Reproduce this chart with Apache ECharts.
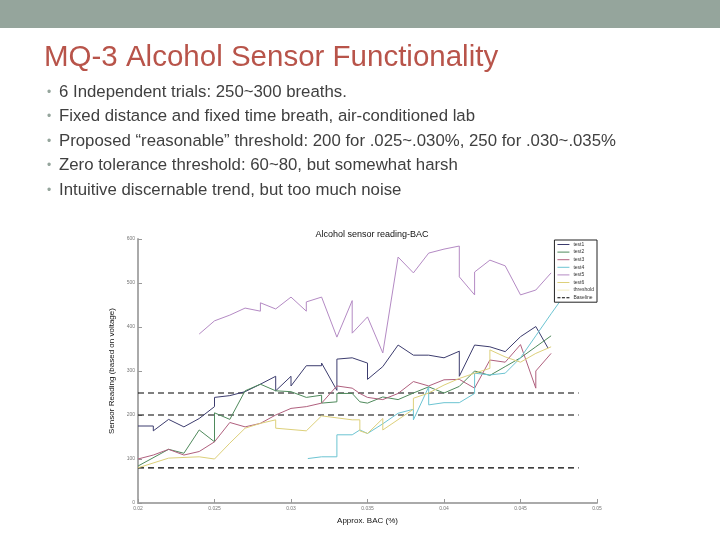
<!DOCTYPE html>
<html><head><meta charset="utf-8">
<script src="https://cdn.jsdelivr.net/npm/echarts@6/dist/echarts.min.js"></script>
<style>html,body{margin:0;padding:0;background:#fff}#c{width:720px;height:540px}</style>
</head><body><div id="c"></div>
<script>
// ---- data (BAC %, sensor reading) ----
const seriesNames = ['test1','test2','test3','test4','test5','test6','threshold','Baseline'];
const test1 = [[0.020,175],[0.021,175],[0.021,164],[0.022,190],[0.023,173],[0.024,192],[0.025,219],[0.025,240],[0.026,244],[0.027,253],[0.028,270],[0.029,288],[0.029,255],[0.030,288],[0.030,266],[0.031,312],[0.032,312],[0.032,318],[0.033,256],[0.033,327],[0.034,330],[0.035,318],[0.035,281],[0.036,310],[0.037,359],[0.038,336],[0.039,336],[0.040,330],[0.041,345],[0.041,288],[0.042,359],[0.043,355],[0.044,344],[0.045,378],[0.046,401],[0.0468,352]];
const test2 = [[0.020,84],[0.022,122],[0.023,113],[0.024,166],[0.025,139],[0.025,205],[0.026,190],[0.027,255],[0.028,270],[0.029,255],[0.030,253],[0.031,240],[0.032,245],[0.032,227],[0.033,230],[0.033,249],[0.034,249],[0.0345,230],[0.035,227],[0.036,241],[0.037,235],[0.038,250],[0.039,264],[0.040,250],[0.041,265],[0.042,300],[0.043,290],[0.044,310],[0.045,330],[0.046,355],[0.047,380]];
const test3 = [[0.020,100],[0.021,109],[0.022,122],[0.023,109],[0.024,117],[0.025,139],[0.026,183],[0.027,173],[0.028,181],[0.029,200],[0.030,215],[0.031,219],[0.032,227],[0.033,266],[0.034,261],[0.0345,249],[0.035,240],[0.036,235],[0.037,249],[0.038,276],[0.039,266],[0.040,280],[0.041,281],[0.042,261],[0.043,325],[0.044,320],[0.045,360],[0.046,261],[0.046,300],[0.047,340]];
const test4 = [[0.0311,101],[0.032,105],[0.033,105],[0.033,155],[0.034,155],[0.0345,166],[0.035,158],[0.036,180],[0.037,204],[0.038,213],[0.038,189],[0.039,264],[0.039,223],[0.040,228],[0.041,228],[0.042,249],[0.042,295],[0.043,291],[0.044,295],[0.045,330],[0.046,380],[0.047,430],[0.0478,469]];
const test5 = [[0.024,384],[0.025,414],[0.026,427],[0.027,443],[0.028,436],[0.028,455],[0.029,441],[0.030,468],[0.031,436],[0.031,457],[0.032,468],[0.033,377],[0.034,460],[0.034,386],[0.035,423],[0.036,341],[0.037,559],[0.038,523],[0.039,568],[0.040,577],[0.041,584],[0.041,514],[0.042,473],[0.042,525],[0.043,552],[0.044,539],[0.045,473],[0.046,484],[0.047,523]];
const test6 = [[0.020,80],[0.022,102],[0.024,105],[0.025,100],[0.026,136],[0.027,170],[0.028,181],[0.029,189],[0.029,170],[0.031,164],[0.032,198],[0.034,189],[0.0345,189],[0.0345,164],[0.035,158],[0.036,192],[0.036,166],[0.038,213],[0.038,238],[0.039,250],[0.040,268],[0.041,283],[0.042,295],[0.043,306],[0.043,348],[0.044,332],[0.045,320],[0.046,340],[0.047,355]];
const baselineLevels = [250, 200, 80];
const baselineStart = 0.02, baselineEnd = 0.0488;
const xTicks = {min:0.02, max:0.05, interval:0.005};
const yTicks = {min:0, max:600, interval:100};
const bullets = [
  '6 Independent trials: 250~300 breaths.',
  'Fixed distance and fixed time breath, air-conditioned lab',
  'Proposed \u201creasonable\u201d threshold: 200 for .025~.030%, 250 for .030~.035%',
  'Zero tolerance threshold: 60~80, but somewhat harsh',
  'Intuitive discernable trend, but too much noise'
];
const colors = ['#3c3c6e','#4f8a5c','#b0607e','#6cc4d2','#b48ac4','#ddd07a','#f2ecc0','#000000'];

// baseline data with breaks
const baseData = [];
baselineLevels.forEach((v,i)=>{ if(i>0) baseData.push([baselineEnd,'-']); baseData.push([baselineStart,v],[baselineEnd,v]); });

const all = [test1,test2,test3,test4,test5,test6,[]];
const series = all.map((d,i)=>({
  name: seriesNames[i], type:'line', data:d, symbol:'none', showSymbol:false,
  lineStyle:{width:1, color:colors[i]}, itemStyle:{color:colors[i]}, animation:false, z:3
}));
series.push({name:'Baseline', type:'line', data:baseData, symbol:'none', connectNulls:false,
  lineStyle:{width:1.2, color:'#000', type:[6,4]}, itemStyle:{color:'#000'}, animation:false, z:2});

const solidIcon = 'path://M0,0h12v1h-12z';
const dashIcon = 'path://M0,0h3v1h-3z M4.5,0h3v1h-3z M9,0h3v1h-3z';
const legendData = seriesNames.map(n=>({name:n, icon: n==='Baseline'?dashIcon:solidIcon}));

const gtext = [];
gtext.push({type:'rect', shape:{x:0,y:0,width:720,height:28}, style:{fill:'#95a59c'}});
gtext.push({type:'text', x:44, y:58, style:{text:'MQ-3 Alcohol Sensor Functionality', font:'29.5px "Liberation Sans", Arial, sans-serif', fill:'#b8544a', verticalAlign:'middle'}});
const bulletY = [92,116,141,165,190];
bullets.forEach((t,i)=>{
  gtext.push({type:'text', x:47, y:bulletY[i]+1, style:{text:'\u2022', font:'12px "Liberation Sans", sans-serif', fill:'#95a59c', verticalAlign:'middle'}});
  gtext.push({type:'text', x:59, y:bulletY[i], style:{text:t, font:'16.8px "Liberation Sans", Arial, sans-serif', fill:'#404040', verticalAlign:'middle'}});
});

const chart = echarts.init(document.getElementById('c'), null, {renderer:'canvas'});
chart.setOption({
  backgroundColor:'#fff',
  animation:false,
  color: colors,
  graphic: gtext,
  title:{text:'Alcohol sensor reading-BAC', left:367, top:225, textAlign:'center',
    textStyle:{fontSize:9, fontWeight:'normal', color:'#111', fontFamily:'"Liberation Sans", Arial, sans-serif'}},
  legend:{data:legendData, orient:'vertical', right:123, top:240, itemWidth:12, itemHeight:1, itemGap:2.6,
    padding:[2,3,2,3], borderColor:'#222', borderWidth:1, backgroundColor:'#fff',
    textStyle:{fontSize:5, color:'#333', padding:[0,0,0,-1]}},
  grid:{left:138, top:239, width:459, height:264},
  xAxis:{type:'value', min:xTicks.min, max:xTicks.max, interval:xTicks.interval,
    name:'Approx. BAC (%)', nameLocation:'middle', nameGap:14,
    nameTextStyle:{fontSize:8, color:'#111'},
    axisLine:{lineStyle:{color:'#aaa', width:2}},
    axisTick:{inside:true, length:4, lineStyle:{color:'#999'}},
    axisLabel:{fontSize:5, color:'#777', margin:3},
    splitLine:{show:false}},
  yAxis:{type:'value', min:yTicks.min, max:yTicks.max, interval:yTicks.interval,
    name:'Sensor Reading (based on voltage)', nameLocation:'middle', nameGap:17, nameRotate:90,
    nameTextStyle:{fontSize:8, color:'#111'},
    axisLine:{show:true, lineStyle:{color:'#aaa', width:2}},
    axisTick:{show:true, inside:true, length:4, lineStyle:{color:'#999'}},
    axisLabel:{fontSize:5, color:'#777', margin:3},
    splitLine:{show:false}},
  series: series
});
</script></body></html>
